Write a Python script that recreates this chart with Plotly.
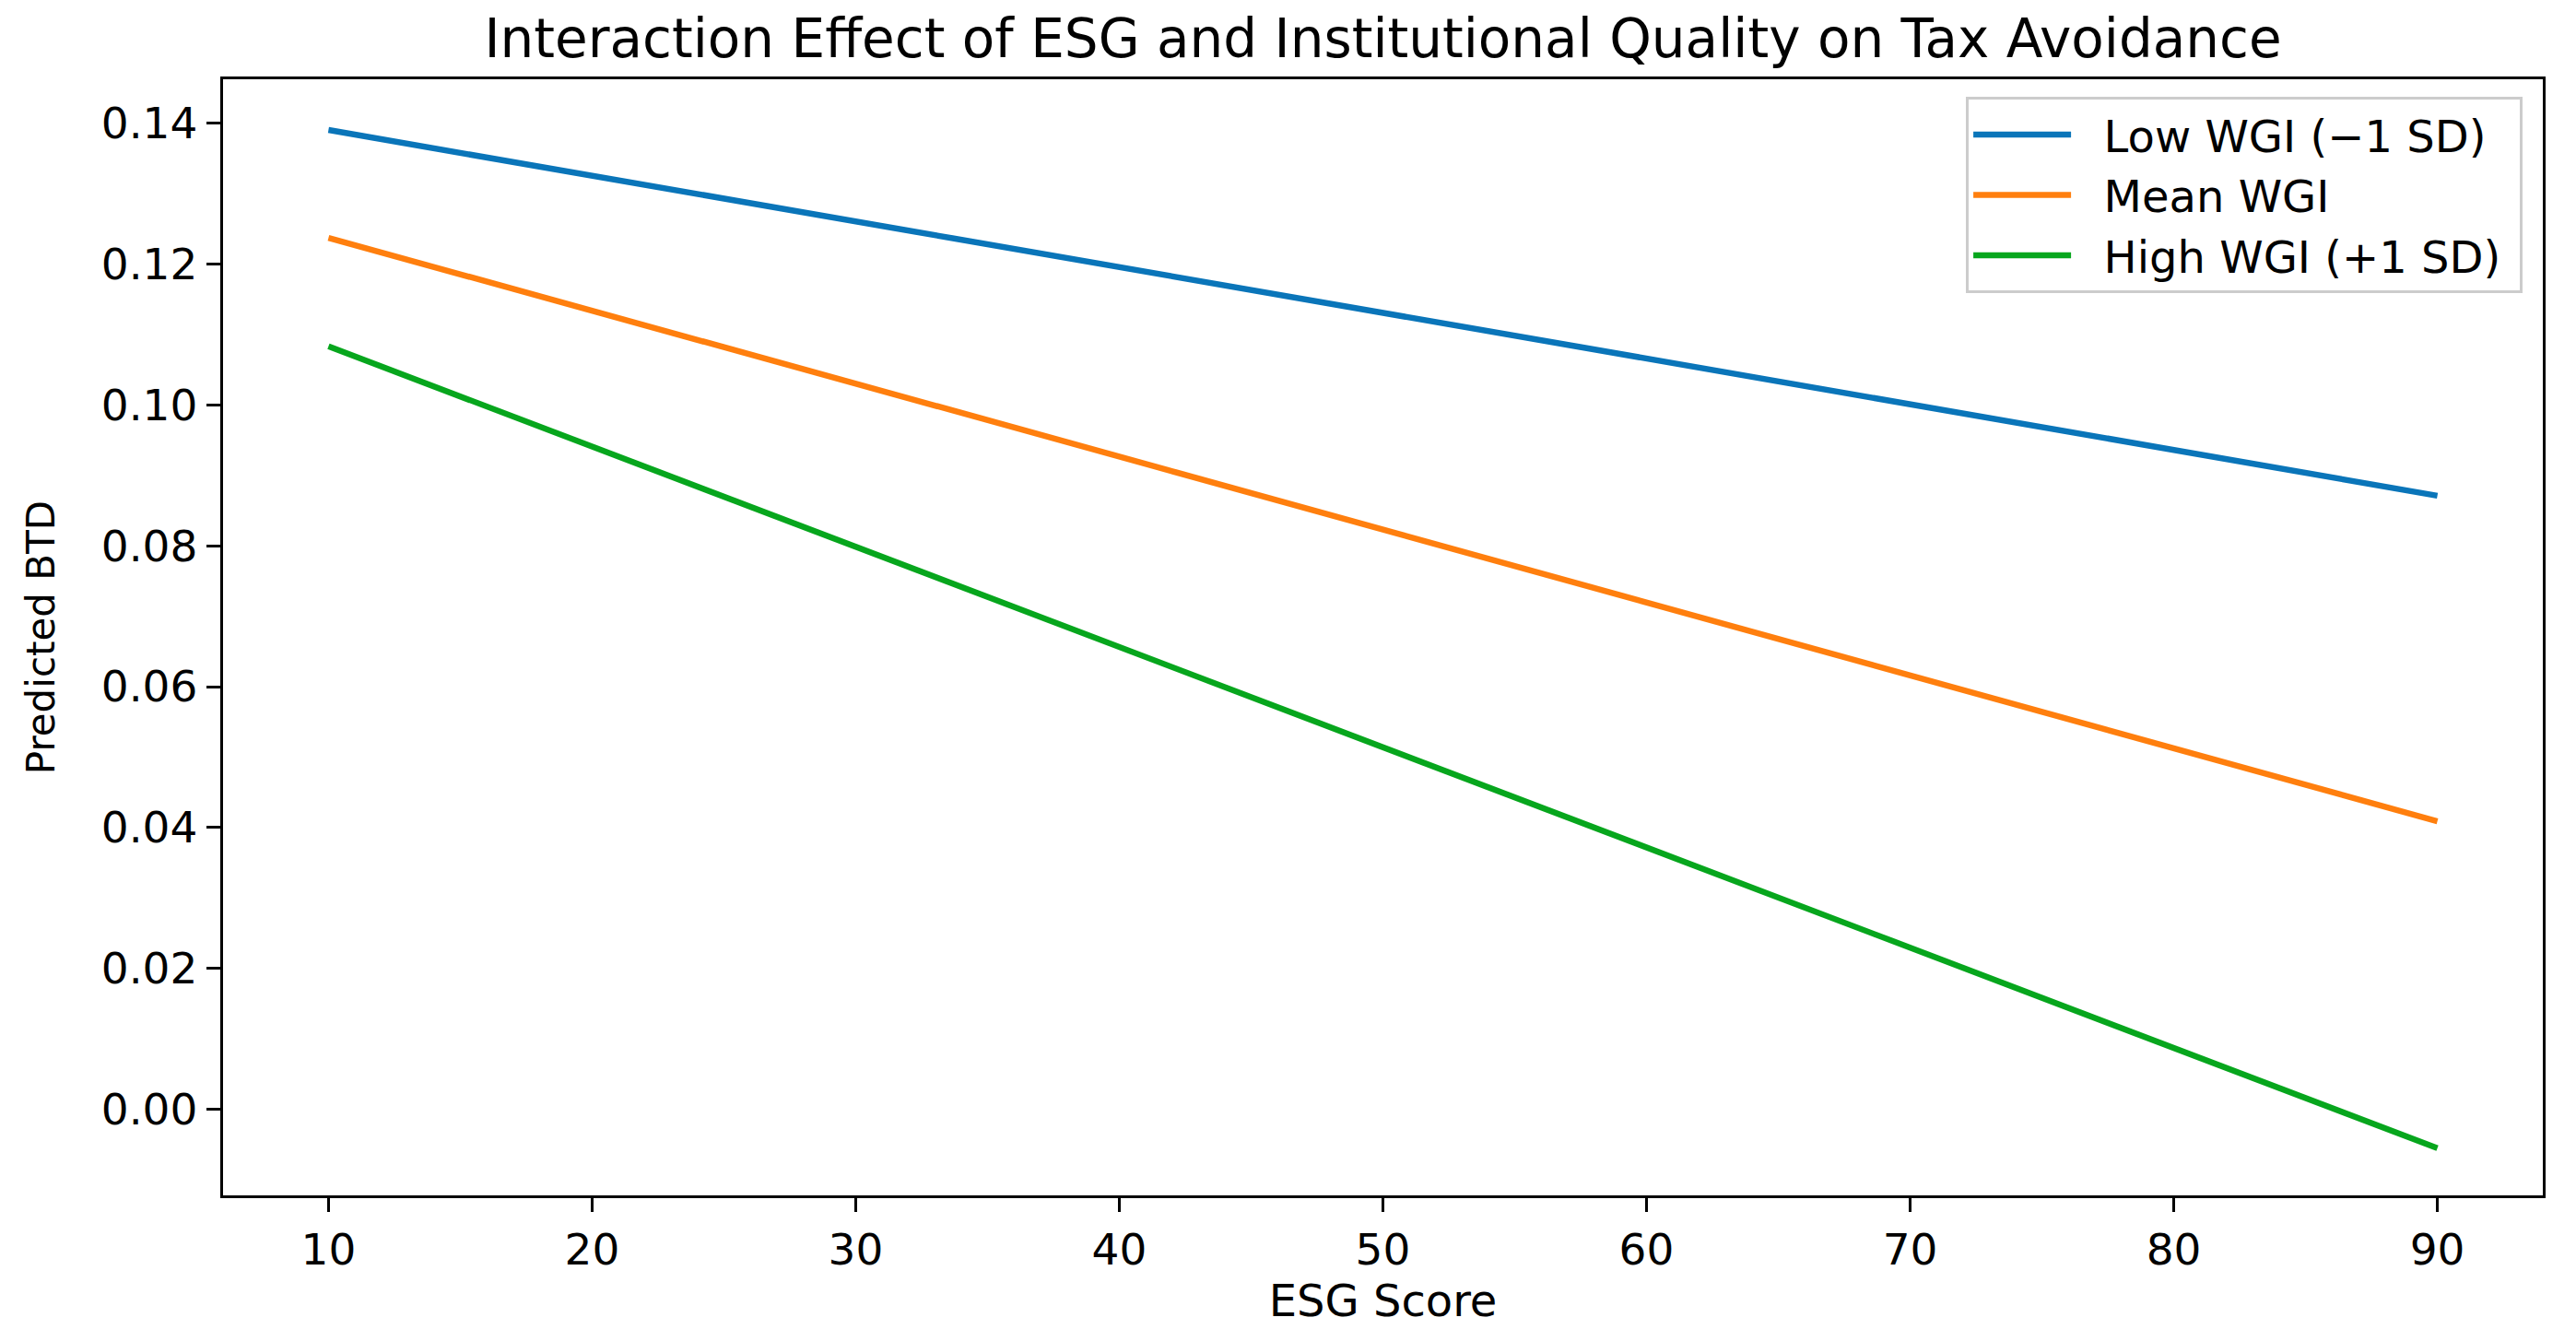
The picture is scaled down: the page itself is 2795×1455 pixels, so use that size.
import plotly.graph_objects as go

# ---- data ----
esg_score = [10, 90]
low_wgi = [0.1390, 0.0871]
mean_wgi = [0.1237, 0.0409]
high_wgi = [0.1083, -0.0055]

series_names = ["Low WGI (\u22121 SD)", "Mean WGI", "High WGI (+1 SD)"]
series_values = [low_wgi, mean_wgi, high_wgi]
series_colors = ["#0a75b9", "#ff7f0e", "#07a61d"]

x_ticks = [10, 20, 30, 40, 50, 60, 70, 80, 90]
y_ticks = [0.00, 0.02, 0.04, 0.06, 0.08, 0.10, 0.12, 0.14]

W, H = 2795, 1455
FONT = "DejaVu Sans"
FS = 47

fig = go.Figure()
for name, vals, col in zip(series_names, series_values, series_colors):
    fig.add_trace(go.Scatter(
        x=esg_score, y=vals, mode="lines",
        name="\u00a0\u00a0" + name + "\u00a0",
        line=dict(color=col, width=6.5),
    ))

axis_common = dict(
    showline=True, mirror=True, linecolor="black", linewidth=3.3,
    ticks="outside", ticklen=15, tickwidth=3.3, tickcolor="black",
    showgrid=False, zeroline=False,
    tickfont=dict(family=FONT, size=FS, color="black"),
)

fig.update_layout(
    width=W, height=H,
    margin=dict(l=242, r=36, t=86, b=158),
    paper_bgcolor="white", plot_bgcolor="white",
    font=dict(family=FONT, size=FS, color="black"),
    title=dict(
        text="Interaction Effect of ESG and Institutional Quality on Tax Avoidance",
        font=dict(family=FONT, size=58, color="black"),
        x=0.5, xref="paper", xanchor="center",
        y=1 - 42 / H, yref="container", yanchor="middle",
    ),
    xaxis=dict(
        range=[6, 94], tickvals=x_ticks,
        title=dict(text="ESG Score", font=dict(family=FONT, size=48), standoff=10),
        **axis_common,
    ),
    yaxis=dict(
        range=[-0.0122, 0.1462], tickvals=y_ticks, tickformat=".2f",
        title=dict(text="Predicted BTD", font=dict(family=FONT, size=42), standoff=38),
        **axis_common,
    ),
    legend=dict(
        x=0.9913, y=0.984, xanchor="right", yanchor="top",
        bgcolor="white", bordercolor="#cccccc", borderwidth=3,
        font=dict(family=FONT, size=48, color="black"),
        itemwidth=106,
    ),
    showlegend=True,
)

fig.write_html(
    "out.html",
    config={"displayModeBar": False},
    post_script="document.body.style.margin='0';document.body.style.overflow='hidden';",
)
